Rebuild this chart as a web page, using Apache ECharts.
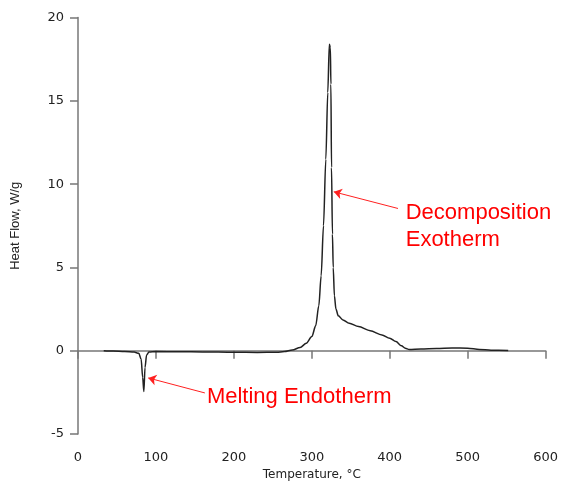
<!DOCTYPE html>
<html>
<head>
<meta charset="utf-8">
<script src="https://cdn.jsdelivr.net/npm/echarts@6/dist/echarts.min.js"></script>
<style>
  html, body { margin: 0; padding: 0; background: #fff; }
  #chart { width: 561px; height: 486px; }
</style>
</head>
<body>
<div id="chart"></div>
<script>
// DSC trace: temperature (°C) vs heat flow (W/g)
const temps = [
  33, 45, 60, 72, 78, 81, 83, 84.5, 86, 88, 91, 100, 130, 160, 200, 230, 255, 265,
  275, 285, 293, 300, 305, 309, 312, 315, 318, 320.5, 322.5, 323.8, 324.5, 325.3,
  326.5, 327.5, 329, 331, 334, 340, 348, 360, 375, 390, 400, 408, 415, 420, 425,
  440, 460, 480, 500, 515, 530, 552
]
const heatFlow = [
  0.0, -0.02, -0.05, -0.08, -0.15, -0.5, -1.6, -2.45, -1.0, -0.25, -0.08, -0.05, -0.06, -0.07, -0.09, -0.1, -0.09, -0.05,
  0.05, 0.2, 0.45, 0.85, 1.5, 2.7, 4.5, 7.5, 11.5, 15.5, 18.4, 18.2, 16.0, 11.0,
  7.0, 5.0, 3.3, 2.5, 2.1, 1.85, 1.65, 1.45, 1.2, 0.95, 0.75, 0.55, 0.3, 0.15, 0.08,
  0.1, 0.14, 0.17, 0.15, 0.08, 0.03, 0.02
]
const xTicks = [0, 600, 100]   // min, max, interval
const yTicks = [-5, 20, 5]

// annotations: [text, arrow tail, arrow tip, text anchor]
const notes = [
  ['Decomposition\nExotherm', [410.6, 8.54], [328.2, 9.54], [420.5, 7.46]],
  ['Melting Endotherm', [162.8, -2.53], [90.1, -1.63], [165.4, -2.74]]
]

const chart = echarts.init(document.getElementById('chart'))

const axisCommon = {
  axisLine: { show: true, lineStyle: { color: '#777', width: 1.5 } },
  axisTick: { show: true, inside: false, length: 8, lineStyle: { color: '#777', width: 1.5 } },
  splitLine: { show: false },
  axisLabel: { color: '#222', fontFamily: 'DejaVu Sans', fontSize: 13 }
}

chart.setOption({
  animation: false,
  grid: { left: 78, right: 15, top: 17.5, bottom: 51 },
  xAxis: {
    type: 'value',
    min: xTicks[0], max: xTicks[1], interval: xTicks[2],
    name: 'Temperature, °C',
    nameLocation: 'middle',
    nameGap: 33,
    nameTextStyle: { color: '#222', fontFamily: 'DejaVu Sans', fontSize: 12 },
    ...axisCommon,
    axisLabel: { ...axisCommon.axisLabel, margin: 17 }
  },
  yAxis: {
    type: 'value',
    min: yTicks[0], max: yTicks[1], interval: yTicks[2],
    name: 'Heat Flow, W/g',
    nameLocation: 'middle',
    nameGap: 56,
    nameTextStyle: { color: '#222', fontFamily: 'Liberation Sans', fontSize: 13 },
    ...axisCommon,
    axisLabel: { ...axisCommon.axisLabel, margin: 14 }
  },
  series: [
    {
      type: 'line',
      data: temps.map((t, i) => [t, heatFlow[i]]),
      showSymbol: false,
      smooth: 0.3,
      smoothMonotone: 'x',
      lineStyle: { color: '#222', width: 1.5 },
      markLine: {
        silent: true,
        symbol: ['none', 'arrow'],
        symbolSize: 8,
        label: { show: false },
        lineStyle: { color: '#ff2020', width: 1, type: 'solid' },
        data: notes.map(n => [{ coord: n[1] }, { coord: n[2] }])
      },
      markPoint: {
        silent: true,
        symbol: 'circle',
        symbolSize: 0,
        data: notes.map(n => ({
          coord: n[3],
          label: {
            show: true,
            position: 'right',
            distance: 0,
            formatter: n[0],
            color: '#ff0000',
            fontFamily: 'Liberation Sans',
            fontSize: 22,
            lineHeight: 27,
            align: 'left'
          }
        }))
      }
    }
  ]
})
</script>
</body>
</html>
